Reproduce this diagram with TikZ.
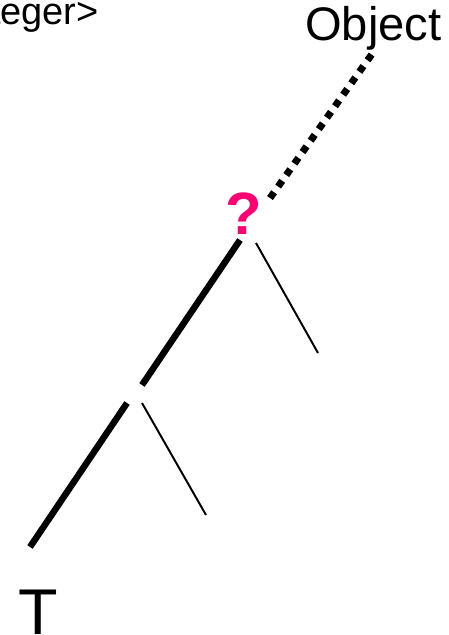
\documentclass[tikz,border=0pt]{standalone}
\usepackage{fontspec}
\setmainfont{Liberation Sans}
\definecolor{qpink}{RGB}{255,0,115}

\begin{document}
\begin{tikzpicture}[
  x=0.025cm, y=-0.025cm,
  label/.style={inner sep=0pt, font=\fontsize{33.5}{38}\selectfont},
  trunk/.style={line width=4.6pt},
  branch/.style={line width=1.4pt},
  upper/.style={line width=5pt, dash pattern=on 5pt off 5pt}
]
  \clip (0,0) rectangle (448,635);

  \node[label, anchor=base east, font=\fontsize{27}{30}\selectfont] (int) at (99,25) {<Integer>};
  \node[label, anchor=base west] (obj) at (305,41) {Object};
  \node[label, anchor=base west, text=qpink, font=\fontsize{42.5}{46}\selectfont\bfseries] (q) at (225,235) {?};
  \node[label, anchor=base west, font=\fontsize{46}{50}\selectfont] (t) at (18,634) {T};

  \coordinate (qtop) at (270,198);
  \coordinate (objfoot) at (372,54);
  \coordinate (qfoot) at (240,240);
  \coordinate (qside) at (256,243);
  \coordinate (midtop) at (142,385);
  \coordinate (midleft) at (127,403);
  \coordinate (midright) at (142,403);
  \coordinate (tfoot) at (30,547);
  \coordinate (leaf1) at (318,353);
  \coordinate (leaf2) at (206,515);

  \draw[upper] (qtop) -- (objfoot);
  \draw[trunk] (qfoot) -- (midtop);
  \draw[trunk] (midleft) -- (tfoot);
  \draw[branch] (qside) -- (leaf1);
  \draw[branch] (midright) -- (leaf2);
\end{tikzpicture}
\end{document}
